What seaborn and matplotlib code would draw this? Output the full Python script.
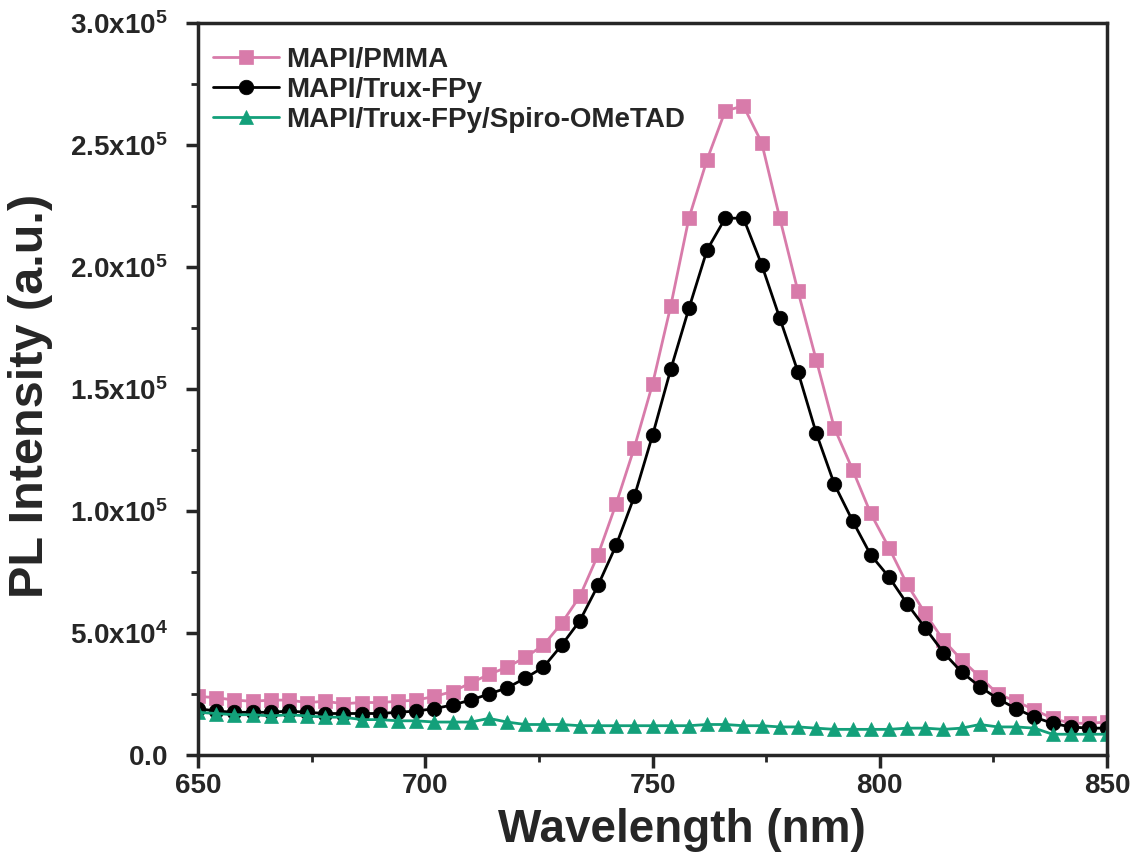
import numpy as np
import pandas as pd
import matplotlib
matplotlib.use("Agg")
import matplotlib.pyplot as plt
import seaborn as sns
from matplotlib.ticker import MultipleLocator

# wavelength grid (nm), one point every 4 nm
wavelength = list(range(650, 851, 4))

# PL intensity (counts)
pmma = [24000, 23500, 22500, 22000, 22500, 22500, 21500, 22000, 21000, 21500,
        21500, 22000, 22500, 24000, 26000, 29500, 33000, 36000, 40000, 45000,
        54000, 65000, 82000, 103000, 126000, 152000, 184000, 220000, 244000, 264000,
        266000, 251000, 220000, 190000, 162000, 134000, 117000, 99000, 85000, 70000,
        58000, 47000, 39000, 32000, 25000, 22000, 18500, 15000, 13000, 13000, 13500]

trux = [19000, 18000, 17500, 17500, 17500, 18000, 17500, 17000, 17000, 17000,
        17000, 17500, 18000, 19000, 20500, 22500, 25000, 27500, 31500, 36000,
        45000, 55000, 69500, 86000, 106000, 131000, 158000, 183000, 207000, 220000,
        220000, 201000, 179000, 157000, 132000, 111000, 96000, 82000, 73000, 62000,
        52000, 42000, 34000, 28000, 23000, 19000, 15500, 13000, 11500, 11000, 11000]

spiro = [17500, 17000, 16500, 16500, 16000, 16500, 16000, 15500, 15500, 14500,
         14500, 14000, 14000, 13500, 13500, 13500, 15000, 13500, 12500, 12500,
         12500, 12000, 12000, 12000, 12000, 12000, 12000, 12000, 12500, 12500,
         12000, 12000, 11500, 11500, 11000, 10500, 10500, 10500, 10500, 11000,
         11000, 10500, 11000, 12500, 11500, 11500, 11000, 8500, 8500, 8500, 8500]

labels = ["MAPI/PMMA", "MAPI/Trux-FPy", "MAPI/Trux-FPy/Spiro-OMeTAD"]
colors = ["#D87BAA", "#000000", "#13A07A"]
markers = ["s", "o", "^"]

y_ticks = [0, 50000, 100000, 150000, 200000, 250000, 300000]
y_ticklabels = [r"$\mathbf{0.0}$", r"$\mathbf{5.0x10^4}$", r"$\mathbf{1.0x10^5}$",
                r"$\mathbf{1.5x10^5}$", r"$\mathbf{2.0x10^5}$", r"$\mathbf{2.5x10^5}$",
                r"$\mathbf{3.0x10^5}$"]
x_ticks = [650, 700, 750, 800, 850]

sns.set_style("ticks")
plt.rcParams["font.family"] = ["Liberation Sans", "DejaVu Sans"]
plt.rcParams["font.weight"] = "bold"
plt.rcParams["mathtext.fontset"] = "custom"
plt.rcParams["mathtext.rm"] = "Liberation Sans"
plt.rcParams["mathtext.bf"] = "Liberation Sans:bold"

fig = plt.figure(figsize=(11.42, 8.68), dpi=100)
ax = fig.add_axes([0.1734, 0.1302, 0.796, 0.8433])

for series, lab, col, mk in zip([pmma, trux, spiro], labels, colors, markers):
    df = pd.DataFrame({"wavelength": wavelength, "intensity": series})
    sns.lineplot(data=df, x="wavelength", y="intensity", ax=ax, color=col,
                 marker=mk, markersize=10.5, markeredgecolor=col, markeredgewidth=0.5,
                 linewidth=2, label=lab)

ax.set_xlim(650, 850)
ax.set_ylim(0, 300000)
ax.set_xticks(x_ticks)
ax.set_xticklabels([str(v) for v in x_ticks])
ax.xaxis.set_minor_locator(MultipleLocator(25))
ax.set_yticks(y_ticks)
ax.set_yticklabels(y_ticklabels)
ax.yaxis.set_minor_locator(MultipleLocator(25000))

ax.tick_params(axis="both", which="major", direction="out", length=9, width=2.5,
               labelsize=20)
ax.tick_params(axis="x", which="major", pad=4)
ax.tick_params(axis="y", which="major", pad=13)
ax.tick_params(axis="both", which="minor", direction="out", length=5, width=2)
for lbl in ax.get_xticklabels():
    lbl.set_fontweight("bold")

for sp in ax.spines.values():
    sp.set_linewidth(2.5)
    sp.set_visible(True)

ax.set_xlabel("Wavelength (nm)", fontsize=33, fontweight="bold")
ax.xaxis.set_label_coords(0.532, -0.072)
ax.set_ylabel("PL Intensity (a.u.)", fontsize=35, fontweight="bold")
ax.yaxis.set_label_coords(-0.159, 0.49)

leg = ax.legend(loc="upper left", bbox_to_anchor=(-0.009, 1.0), frameon=False,
                fontsize=20, handlelength=2.35, handletextpad=0.25,
                labelspacing=0.15, borderaxespad=0.55, borderpad=0.3)
for t in leg.get_texts():
    t.set_fontweight("bold")

fig.savefig("out.png", dpi=100)
plt.close(fig)
